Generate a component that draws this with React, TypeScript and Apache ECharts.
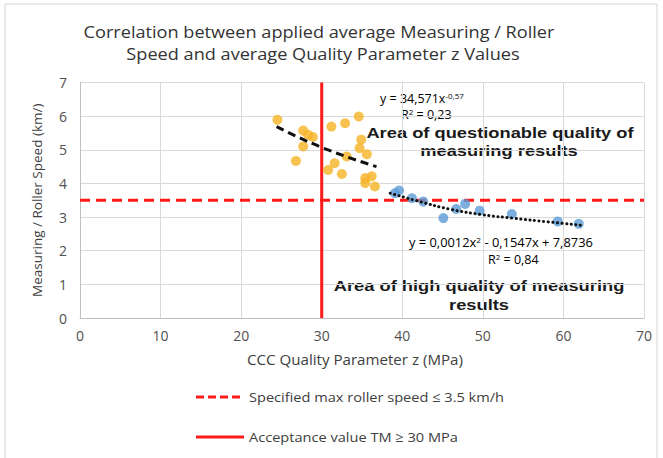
import React, { useEffect, useRef } from "react";
import * as echarts from "echarts";

const orangePoints: [number, number][] = [
  [24.5, 5.89], [27.7, 5.57], [28.3, 5.45], [28.9, 5.38], [27.7, 5.1],
  [26.8, 4.67], [31.2, 5.69], [32.9, 5.79], [34.6, 5.99], [34.9, 5.3],
  [34.7, 5.05], [35.6, 4.87], [33.1, 4.8], [31.6, 4.6], [30.8, 4.4],
  [32.5, 4.28], [35.4, 4.16], [36.2, 4.21], [35.4, 4.01], [36.6, 3.91],
];
const bluePoints: [number, number][] = [
  [39.1, 3.71], [39.6, 3.79], [41.2, 3.56], [42.6, 3.46], [45.1, 2.97],
  [46.7, 3.24], [47.8, 3.39], [49.6, 3.19], [53.6, 3.09], [59.3, 2.87],
  [61.9, 2.8],
];
const powerTrend: [number, number][] = [
  [24.4, 5.69], [30, 5.07], [36.8, 4.5],
];
const polyTrend: [number, number][] = [
  [38.5, 3.71], [42, 3.47], [46, 3.23], [50, 3.07], [54, 2.96], [58, 2.86], [62.5, 2.75],
];
const speedLimit = 3.5;
const acceptanceValue = 30;
const xTicks = { min: 0, max: 70, interval: 10 };
const yTicks = { min: 0, max: 7, interval: 1 };

const titleLines = [
  "Correlation between applied average Measuring / Roller",
  "Speed and average Quality Parameter z Values",
];
const xAxisTitle = "CCC Quality Parameter z (MPa)";
const yAxisTitle = "Measuring / Roller Speed (km/)";
const legendLabels = [
  "Specified max roller speed \u2264 3.5 km/h",
  "Acceptance value TM \u2265 30 MPa",
];

const FONT = "'Open Sans', 'Noto Sans', sans-serif";
const BOLD = "'Liberation Sans', Arial, sans-serif";

export default function App() {
  const ref = useRef<HTMLDivElement>(null);
  useEffect(() => {
    if (!ref.current) return;
    const chart = echarts.init(ref.current, undefined, { renderer: "svg" });
    const eqRich = {
      n: { fontFamily: FONT, fontSize: 12.5, color: "#404040", lineHeight: 13 },
      s: { fontFamily: FONT, fontSize: 8, color: "#404040", lineHeight: 13, verticalAlign: "top" },
    };
    const boldStyle = (text: string) => ({
      text,
      fontFamily: BOLD,
      fontWeight: "bold",
      fontSize: 15,
      fill: "#1a1a1a",
      align: "center",
      verticalAlign: "middle",
    });
    const plainStyle = (text: string, size: number, align = "left") => ({
      text,
      fontFamily: FONT,
      fontSize: size,
      fill: "#404040",
      align,
      verticalAlign: "middle",
    });
    chart.setOption({
      animation: false,
      backgroundColor: "#ffffff",
      grid: { left: 80, right: 19, top: 82.5, bottom: 140, containLabel: false },
      xAxis: {
        type: "value",
        ...xTicks,
        axisLine: { show: true, lineStyle: { color: "#bfbfbf", width: 1 } },
        axisTick: { show: false },
        axisLabel: { color: "#505050", fontSize: 14, fontFamily: FONT, margin: 10 },
        splitLine: { show: true, lineStyle: { color: "#d9d9d9", width: 1 } },
      },
      yAxis: {
        type: "value",
        ...yTicks,
        name: yAxisTitle,
        nameLocation: "middle",
        nameGap: 36,
        nameTextStyle: { color: "#404040", fontSize: 13.5, fontFamily: FONT },
        axisLine: { show: true, lineStyle: { color: "#bfbfbf", width: 1 } },
        axisTick: { show: false },
        axisLabel: { color: "#505050", fontSize: 14, fontFamily: FONT, margin: 13 },
        splitLine: { show: true, lineStyle: { color: "#d9d9d9", width: 1 } },
      },
      series: [
        {
          type: "line",
          data: [[xTicks.min, speedLimit], [xTicks.max, speedLimit]],
          symbol: "none",
          lineStyle: { color: "#ff1a1a", width: 3, type: [10, 6] },
          z: 1,
        },
        {
          type: "line",
          data: [[acceptanceValue, yTicks.min], [acceptanceValue, yTicks.max]],
          symbol: "none",
          lineStyle: { color: "#ff1a1a", width: 3, type: "solid" },
          z: 1,
        },
        {
          type: "scatter",
          data: orangePoints,
          symbolSize: 10,
          itemStyle: { color: "#f6b324" },
          z: 3,
        },
        {
          type: "scatter",
          data: bluePoints,
          symbolSize: 10,
          itemStyle: { color: "#5b9bd5" },
          z: 3,
        },
        {
          type: "line",
          data: powerTrend,
          symbol: "none",
          smooth: true,
          lineStyle: { color: "#111111", width: 3, type: [8, 5] },
          z: 4,
        },
        {
          type: "line",
          data: polyTrend,
          symbol: "none",
          smooth: true,
          lineStyle: { color: "#111111", width: 3, type: [0.1, 4.5], cap: "round" },
          z: 4,
        },
      ],
      graphic: [
        {
          type: "rect",
          shape: { x: 5, y: 4, width: 652, height: 470 },
          style: { fill: "none", stroke: "#d4d4d4", lineWidth: 1 },
          z: -10,
        },
        { type: "text", x: 319, y: 31, scaleX: 1.1, style: { ...plainStyle(titleLines[0], 16.5, "center"), fill: "#333333" } },
        { type: "text", x: 323, y: 53, scaleX: 1.1, style: { ...plainStyle(titleLines[1], 16.5, "center"), fill: "#333333" } },
        {
          type: "text",
          x: 380, y: 98,
          style: { text: "{n|y = 34,571x}{s|-0,57}", rich: eqRich, align: "left", verticalAlign: "middle" },
        },
        {
          type: "text",
          x: 401, y: 114,
          style: { text: "{n|R}{s|2}{n| = 0,23}", rich: eqRich, align: "left", verticalAlign: "middle" },
        },
        { type: "text", x: 500, y: 133, scaleX: 1.22, style: boldStyle("Area of questionable quality of") },
        { type: "text", x: 499, y: 151, scaleX: 1.22, style: boldStyle("measuring results") },
        {
          type: "text",
          x: 409, y: 242, scaleX: 1.03,
          style: { text: "{n|y = 0,0012x}{s|2}{n| - 0,1547x + 7,8736}", rich: eqRich, align: "left", verticalAlign: "middle" },
        },
        {
          type: "text",
          x: 488, y: 259,
          style: { text: "{n|R}{s|2}{n| = 0,84}", rich: eqRich, align: "left", verticalAlign: "middle" },
        },
        { type: "text", x: 479, y: 286, scaleX: 1.22, style: boldStyle("Area of high quality of measuring") },
        { type: "text", x: 479, y: 305, scaleX: 1.22, style: boldStyle("results") },
        { type: "text", x: 247, y: 359, scaleX: 1.08, style: plainStyle(xAxisTitle, 14) },
        {
          type: "line",
          shape: { x1: 196, y1: 397, x2: 244, y2: 397 },
          style: { stroke: "#ff1a1a", lineWidth: 3, lineDash: [8, 4] },
        },
        { type: "text", x: 249, y: 397, scaleX: 1.08, style: plainStyle(legendLabels[0], 13.5) },
        {
          type: "line",
          shape: { x1: 196, y1: 437, x2: 244, y2: 437 },
          style: { stroke: "#ff1a1a", lineWidth: 3 },
        },
        { type: "text", x: 249, y: 437, scaleX: 1.08, style: plainStyle(legendLabels[1], 13.5) },
      ],
    });
    return () => chart.dispose();
  }, []);
  return (
    <div
      ref={ref}
      style={{ position: "absolute", left: 0, top: 0, width: 663, height: 458 }}
    />
  );
}
